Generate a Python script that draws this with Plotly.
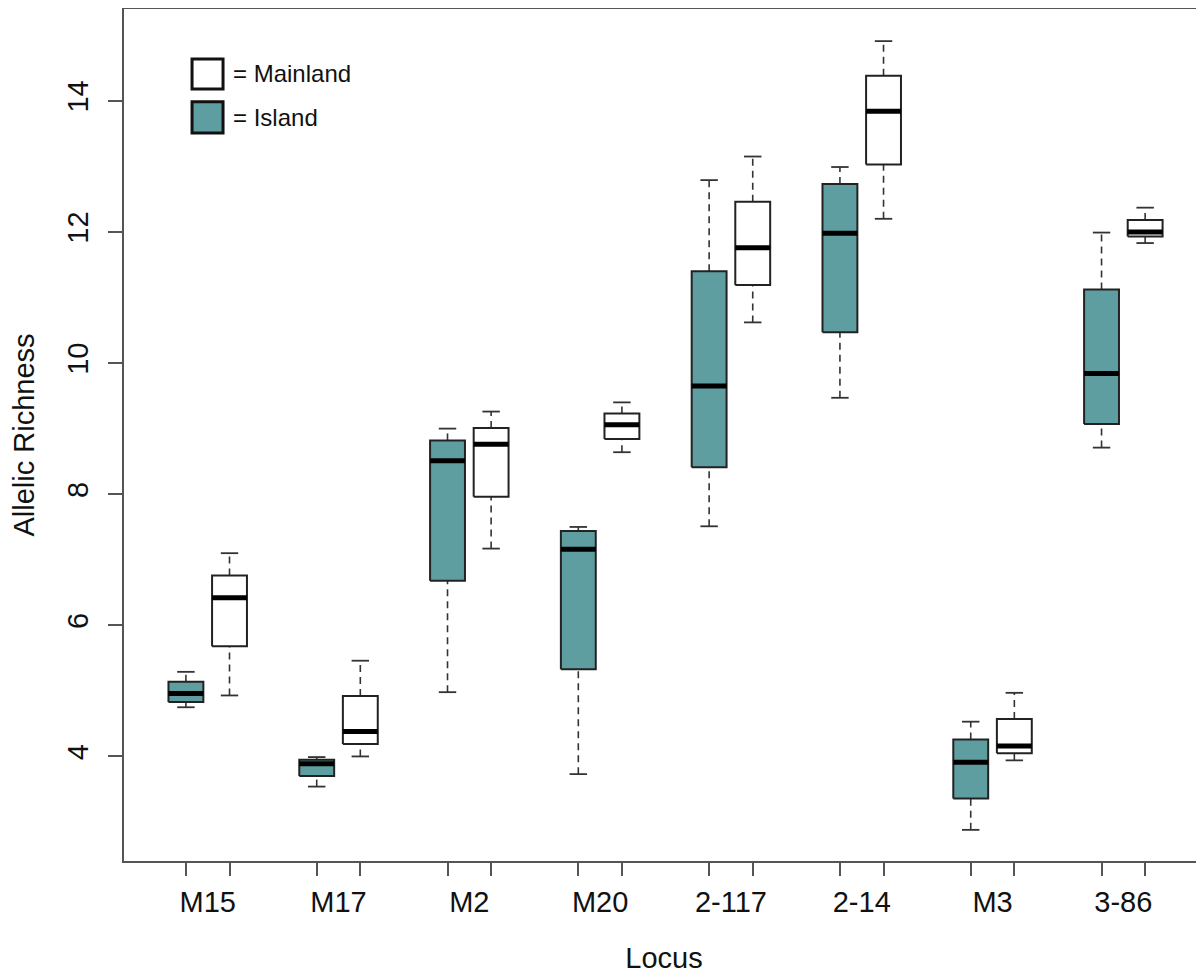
import plotly.graph_objects as go

# ---------------- data ----------------
loci = ["M15", "M17", "M2", "M20", "2-117", "2-14", "M3", "3-86"]

island_low  = [4.75, 3.54, 4.98, 3.73, 7.51, 9.47, 2.88, 8.71]
island_q1   = [4.83, 3.70, 6.68, 5.33, 8.41, 10.47, 3.36, 9.07]
island_med  = [4.96, 3.89, 8.51, 7.16, 9.65, 11.98, 3.91, 9.84]
island_q3   = [5.14, 3.95, 8.82, 7.44, 11.40, 12.73, 4.26, 11.12]
island_high = [5.29, 3.99, 9.00, 7.50, 12.79, 12.99, 4.53, 11.99]

mainland_low  = [4.93, 4.00, 7.17, 8.64, 10.62, 12.20, 3.94, 11.83]
mainland_q1   = [5.68, 4.19, 7.96, 8.84, 11.19, 13.03, 4.05, 11.93]
mainland_med  = [6.42, 4.38, 8.76, 9.06, 11.76, 13.84, 4.16, 12.00]
mainland_q3   = [6.76, 4.92, 9.01, 9.23, 12.46, 14.38, 4.57, 12.18]
mainland_high = [7.10, 5.46, 9.26, 9.40, 13.15, 14.91, 4.97, 12.37]

y_ticks = [4, 6, 8, 10, 12, 14]

# ---------------- styling ----------------
FONT = "Liberation Sans, Arial, Helvetica, sans-serif"
ISLAND_FILL = "#5F9EA0"
MAINLAND_FILL = "#FFFFFF"
EDGE = "#222222"
AXIS = "#555555"
TXT = "#111111"
HALF_BOX = 0.4
HALF_CAP = 0.2

n = len(loci)
island_pos = [1 + 3 * i for i in range(n)]
mainland_pos = [2 + 3 * i for i in range(n)]
mid_pos = [1.5 + 3 * i for i in range(n)]

fig = go.Figure()


def add_group(pos, low, q1, med, q3, high, fill, name):
    # dashed whiskers
    wx, wy = [], []
    for p, lo, a, b, hi in zip(pos, low, q1, q3, high):
        wx += [p, p, None, p, p, None]
        wy += [lo, a, None, b, hi, None]
    fig.add_trace(go.Scatter(x=wx, y=wy, mode="lines", showlegend=False,
                             hoverinfo="skip",
                             line=dict(color="#333333", width=1.6, dash="7px,5px")))
    # caps
    cx, cy = [], []
    for p, lo, hi in zip(pos, low, high):
        cx += [p - HALF_CAP, p + HALF_CAP, None, p - HALF_CAP, p + HALF_CAP, None]
        cy += [lo, lo, None, hi, hi, None]
    fig.add_trace(go.Scatter(x=cx, y=cy, mode="lines", showlegend=False,
                             hoverinfo="skip",
                             line=dict(color="#333333", width=1.8)))
    # boxes
    bx, by = [], []
    for p, a, b in zip(pos, q1, q3):
        bx += [p - HALF_BOX, p + HALF_BOX, p + HALF_BOX, p - HALF_BOX, p - HALF_BOX, None]
        by += [a, a, b, b, a, None]
    fig.add_trace(go.Scatter(x=bx, y=by, mode="lines", fill="toself",
                             fillcolor=fill, name=name, showlegend=False,
                             line=dict(color=EDGE, width=2)))
    # medians
    mx, my = [], []
    for p, m in zip(pos, med):
        mx += [p - HALF_BOX, p + HALF_BOX, None]
        my += [m, m, None]
    fig.add_trace(go.Scatter(x=mx, y=my, mode="lines", showlegend=False,
                             hoverinfo="skip",
                             line=dict(color="#000000", width=5)))


add_group(island_pos, island_low, island_q1, island_med, island_q3, island_high,
          ISLAND_FILL, "Island")
add_group(mainland_pos, mainland_low, mainland_q1, mainland_med, mainland_q3,
          mainland_high, MAINLAND_FILL, "Mainland")

# invisible trace to activate the tick-mark axis
fig.add_trace(go.Scatter(x=[island_pos[0]], y=[island_low[0]], xaxis="x2",
                         mode="markers", marker=dict(opacity=0),
                         showlegend=False, hoverinfo="skip"))

XR = [-0.42, 24.35]
YR = [2.405, 15.40]

# the page body adds an 8px margin, so the figure is 8px smaller than the window
fig.update_layout(
    width=1196, height=967,
    margin=dict(l=116, r=0, t=1, b=114),
    paper_bgcolor="white", plot_bgcolor="white",
    font=dict(family=FONT, size=29, color=TXT),
    showlegend=False,
    xaxis=dict(
        range=XR, showgrid=False, zeroline=False, automargin=False,
        showline=True, mirror=True, linecolor=AXIS, linewidth=2,
        tickmode="array", tickvals=mid_pos, ticktext=loci,
        ticks="", ticklabelstandoff=14,
        tickfont=dict(family=FONT, size=29, color=TXT),
        title=dict(text="Locus", standoff=31,
                   font=dict(family=FONT, size=29, color=TXT)),
    ),
    xaxis2=dict(
        range=XR, overlaying="x", anchor="y", side="bottom", automargin=False,
        showgrid=False, zeroline=False, showline=False,
        tickmode="array", tickvals=island_pos + mainland_pos,
        ticks="outside", ticklen=14, tickwidth=1.6, tickcolor=AXIS,
        showticklabels=False,
    ),
    yaxis=dict(
        range=YR, showgrid=False, zeroline=False, automargin=False,
        showline=True, linecolor=AXIS, linewidth=2,
        tickmode="array", tickvals=y_ticks,
        ticks="outside", ticklen=14, tickwidth=1.6, tickcolor=AXIS,
        tickangle=-90, ticklabelstandoff=8,
        tickfont=dict(family=FONT, size=29, color=TXT),
        title=dict(text="Allelic Richness", standoff=20,
                   font=dict(family=FONT, size=29, color=TXT)),
    ),
)

# legend drawn as keys + text
legend_items = [("= Mainland", MAINLAND_FILL, 0.9414, 0.9062),
                ("= Island", ISLAND_FILL, 0.8910, 0.8546)]
for label, fill, y1, y0 in legend_items:
    fig.add_shape(type="rect", xref="paper", yref="paper",
                  x0=0.063, x1=0.0917, y0=y0, y1=y1,
                  fillcolor=fill, line=dict(color="#111111", width=3))
    fig.add_annotation(xref="paper", yref="paper", x=0.099, y=(y0 + y1) / 2,
                       text=label, showarrow=False, xanchor="left",
                       yanchor="middle",
                       font=dict(family=FONT, size=24, color=TXT))

fig.write_html("out.html")
